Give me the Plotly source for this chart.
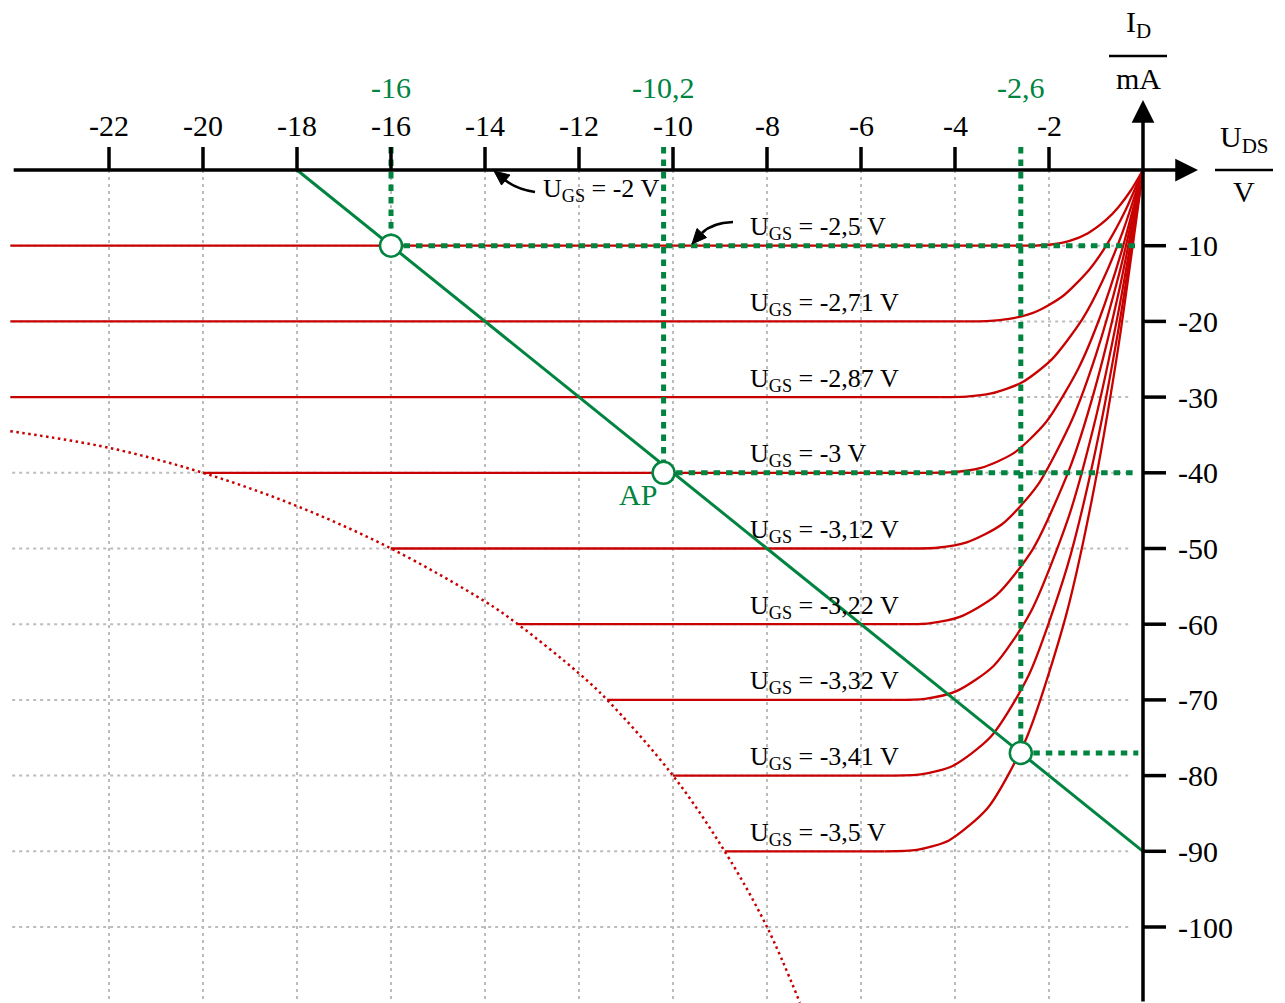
import plotly.graph_objects as go

FONT = "Liberation Serif, Times New Roman, serif"
RED = "#c80000"
GREEN = "#00843f"
GRAY = "#bcbcbc"
BLACK = "#000000"

# ---------------- data ----------------
x_ticks = [-22, -20, -18, -16, -14, -12, -10, -8, -6, -4, -2]
x_tick_labels = ["-22", "-20", "-18", "-16", "-14", "-12", "-10", "-8", "-6", "-4", "-2"]
y_ticks = [-10, -20, -30, -40, -50, -60, -70, -80, -90, -100]
y_tick_labels = ["-10", "-20", "-30", "-40", "-50", "-60", "-70", "-80", "-90", "-100"]

ugs_labels = ["-2,5 V", "-2,71 V", "-2,87 V", "-3 V", "-3,12 V",
              "-3,22 V", "-3,32 V", "-3,41 V", "-3,5 V"]
i_sat = [-10, -20, -30, -40, -50, -60, -70, -80, -90]
u_start = [-24.1, -24.1, -24.1, -20, -16, -13.3, -11.4, -10, -8.9]

curve_u = [
    [-2.6, -2.28, -1.95, -1.56, -1.17, -0.78, -0.52, -0.26, 0],
    [-3.8, -3.33, -2.85, -2.28, -1.71, -1.14, -0.76, -0.38, 0],
    [-4.3, -3.76, -3.23, -2.58, -1.94, -1.29, -0.86, -0.43, 0],
    [-4.6, -4.03, -3.45, -2.76, -2.07, -1.38, -0.92, -0.46, 0],
    [-5.0, -4.38, -3.75, -3.0, -2.25, -1.5, -1.0, -0.5, 0],
    [-5.2, -4.55, -3.9, -3.12, -2.34, -1.56, -1.04, -0.52, 0],
    [-5.3, -4.64, -3.98, -3.18, -2.39, -1.59, -1.06, -0.53, 0],
    [-5.4, -4.73, -4.05, -3.24, -2.43, -1.62, -1.08, -0.54, 0],
    [-5.5, -4.81, -4.13, -3.3, -2.48, -1.65, -1.1, -0.55, 0],
]
curve_i = [
    [-10, -9.98, -9.84, -9.36, -8.34, -6.57, -4.88, -2.71, 0],
    [-20, -19.96, -19.68, -18.72, -16.68, -13.14, -9.76, -5.42, 0],
    [-30, -29.94, -29.52, -28.08, -25.02, -19.71, -14.64, -8.13, 0],
    [-40, -39.92, -39.36, -37.44, -33.36, -26.28, -19.52, -10.84, 0],
    [-50, -49.9, -49.2, -46.8, -41.7, -32.85, -24.4, -13.55, 0],
    [-60, -59.88, -59.04, -56.16, -50.04, -39.42, -29.28, -16.26, 0],
    [-70, -69.86, -68.88, -65.52, -58.38, -45.99, -34.16, -18.97, 0],
    [-80, -79.84, -78.72, -74.88, -66.72, -52.56, -39.04, -21.68, 0],
    [-90, -89.82, -88.56, -84.24, -75.06, -59.13, -43.92, -24.39, 0],
]

# power hyperbola (dotted red)
hyp_u = [-24.1, -22, -20, -18, -16, -14, -13.3, -12, -11.4, -10, -8.9, -8, -7.3]
hyp_i = [-34.5, -36.7, -40, -44.4, -50, -57, -60, -66.5, -70, -80, -90, -100, -110]

# load line
load_u = [-18, 0]
load_i = [0, -90]

# operating points
op_u = [-16, -10.2, -2.6]
op_i = [-10, -40, -77]
op_labels = ["-16", "-10,2", "-2,6"]

# ---------------- geometry of the canvas ----------------
W, H = 1285, 1003
X0_PX, PX_PER_V = 1143, 47.0
Y0_PX, PX_PER_MA = 170, 7.57
x_range = [-X0_PX / PX_PER_V, (W - X0_PX) / PX_PER_V]
y_range = [-(H - Y0_PX) / PX_PER_MA, Y0_PX / PX_PER_MA]
x_left = -24.06
grid_right = -0.25
tick_len_i = 23 / PX_PER_MA
tick_len_u = 23 / PX_PER_V


def pu(px):
    return (px - X0_PX) / PX_PER_V


def pi(py):
    return (Y0_PX - py) / PX_PER_MA


fig = go.Figure()
shapes = []
annotations = []

# grid
for xv in x_ticks:
    fig.add_trace(go.Scatter(x=[xv, xv], y=[0, y_range[0]], mode="lines",
                             line=dict(color=GRAY, width=2, dash="3px,4px"),
                             hoverinfo="skip", showlegend=False))
for yv in y_ticks:
    fig.add_trace(go.Scatter(x=[x_left, grid_right], y=[yv, yv], mode="lines",
                             line=dict(color=GRAY, width=2, dash="3px,4px"),
                             hoverinfo="skip", showlegend=False))

# hyperbola
fig.add_trace(go.Scatter(x=hyp_u, y=hyp_i, mode="lines", line_shape="spline",
                         line=dict(color=RED, width=2.5, dash="2.5px,3.5px"),
                         hoverinfo="skip", showlegend=False))

# characteristic curves: flat part + curved part
for us, isat, cu, ci in zip(u_start, i_sat, curve_u, curve_i):
    fig.add_trace(go.Scatter(x=[us, cu[0]], y=[isat, ci[0]], mode="lines",
                             line=dict(color=RED, width=2.3),
                             hoverinfo="skip", showlegend=False))
    fig.add_trace(go.Scatter(x=cu, y=ci, mode="lines",
                             line=dict(color=RED, width=2.3, shape="spline", smoothing=0.7),
                             hoverinfo="skip", showlegend=False))

# green dotted helper lines
for u, i in zip(op_u, op_i):
    fig.add_trace(go.Scatter(x=[u, u], y=[tick_len_i, i], mode="lines",
                             line=dict(color=GREEN, width=5, dash="6.5px,6px"),
                             hoverinfo="skip", showlegend=False))
    fig.add_trace(go.Scatter(x=[u, -0.1], y=[i, i], mode="lines",
                             line=dict(color=GREEN, width=5, dash="6.5px,6px"),
                             hoverinfo="skip", showlegend=False))

# load line
fig.add_trace(go.Scatter(x=load_u, y=load_i, mode="lines",
                         line=dict(color=GREEN, width=3),
                         hoverinfo="skip", showlegend=False))

# operating point circles
fig.add_trace(go.Scatter(x=op_u, y=op_i, mode="markers",
                         marker=dict(size=22, color="white",
                                     line=dict(color=GREEN, width=2.5)),
                         hoverinfo="skip", showlegend=False))

# ticks
for xv in x_ticks:
    shapes.append(dict(type="line", x0=xv, x1=xv, y0=0, y1=tick_len_i,
                       line=dict(color=BLACK, width=3.5), layer="above"))
for yv in y_ticks:
    shapes.append(dict(type="line", x0=0, x1=tick_len_u, y0=yv, y1=yv,
                       line=dict(color=BLACK, width=3.5), layer="above"))

# tick labels
for xv, lab in zip(x_ticks, x_tick_labels):
    annotations.append(dict(x=xv, y=pi(125), text=lab, showarrow=False,
                            font=dict(family=FONT, size=30, color=BLACK),
                            xanchor="center", yanchor="middle"))
for yv, lab in zip(y_ticks, y_tick_labels):
    annotations.append(dict(x=pu(1176), y=yv, text=lab, showarrow=False,
                            font=dict(family=FONT, size=30, color=BLACK),
                            xanchor="left", yanchor="middle"))

# green value labels
for u, lab in zip(op_u, op_labels):
    annotations.append(dict(x=u, y=pi(87), text=lab, showarrow=False,
                            font=dict(family=FONT, size=30, color=GREEN),
                            xanchor="center", yanchor="middle"))

# U_GS labels
lab_u = pu(748)
for isat, lab in zip(i_sat, ugs_labels):
    annotations.append(dict(x=lab_u, y=isat + 2.3, text="U<sub>GS</sub> = " + lab,
                            showarrow=False, font=dict(family=FONT, size=26, color=BLACK),
                            xanchor="left", yanchor="middle"))
annotations.append(dict(x=pu(541), y=-2.6, text="U<sub>GS</sub> = -2 V",
                        showarrow=False, font=dict(family=FONT, size=26, color=BLACK),
                        xanchor="left", yanchor="middle"))


# curved pointer arrows (shaft + head)
def curved_arrow(p0, pc, p1, tip, b1, b2):
    shapes.append(dict(type="path",
                       path=f"M {pu(p0[0])},{pi(p0[1])} Q {pu(pc[0])},{pi(pc[1])} {pu(p1[0])},{pi(p1[1])}",
                       line=dict(color=BLACK, width=2.6), layer="above"))
    shapes.append(dict(type="path",
                       path=f"M {pu(tip[0])},{pi(tip[1])} L {pu(b1[0])},{pi(b1[1])} L {pu(b2[0])},{pi(b2[1])} Z",
                       line=dict(color=BLACK, width=1), fillcolor=BLACK, layer="above"))


curved_arrow((535, 192), (516, 189), (505, 180), (494, 171), (510, 175), (501.5, 185))
curved_arrow((733, 222), (712, 223), (702, 233), (692, 244), (706.5, 237.5), (697, 228.5))

# AP label
annotations.append(dict(x=pu(638), y=pi(494), text="AP", showarrow=False,
                        font=dict(family=FONT, size=30, color=GREEN),
                        xanchor="center", yanchor="middle"))

# axes with arrows
annotations.append(dict(x=pu(1198), y=0, ax=x_left, ay=0,
                        axref="x", ayref="y", xref="x", yref="y", text="", showarrow=True,
                        arrowhead=2, arrowsize=1.3, arrowwidth=3.5, arrowcolor=BLACK))
annotations.append(dict(x=0, y=pi(100), ax=0, ay=y_range[0],
                        axref="x", ayref="y", xref="x", yref="y", text="", showarrow=True,
                        arrowhead=2, arrowsize=1.3, arrowwidth=3.5, arrowcolor=BLACK))

# axis titles (fractions)
annotations.append(dict(x=pu(1138), y=pi(24), text="I<sub>D</sub>", showarrow=False,
                        font=dict(family=FONT, size=30, color=BLACK),
                        xanchor="center", yanchor="middle"))
annotations.append(dict(x=pu(1138), y=pi(78), text="mA", showarrow=False,
                        font=dict(family=FONT, size=30, color=BLACK),
                        xanchor="center", yanchor="middle"))
shapes.append(dict(type="line", x0=pu(1109), x1=pu(1167), y0=pi(56), y1=pi(56),
                   line=dict(color=BLACK, width=2.5)))
annotations.append(dict(x=pu(1244), y=pi(139), text="U<sub>DS</sub>", showarrow=False,
                        font=dict(family=FONT, size=30, color=BLACK),
                        xanchor="center", yanchor="middle"))
annotations.append(dict(x=pu(1244), y=pi(191), text="V", showarrow=False,
                        font=dict(family=FONT, size=30, color=BLACK),
                        xanchor="center", yanchor="middle"))
shapes.append(dict(type="line", x0=pu(1215), x1=pu(1273), y0=0, y1=0,
                   line=dict(color=BLACK, width=2.5)))

fig.update_layout(
    width=W, height=H,
    margin=dict(l=0, r=0, t=0, b=0),
    paper_bgcolor="white", plot_bgcolor="white",
    xaxis=dict(range=x_range, visible=False, fixedrange=True),
    yaxis=dict(range=y_range, visible=False, fixedrange=True),
    shapes=shapes, annotations=annotations,
    showlegend=False,
)

fig.write_html("out.html", config={"displayModeBar": False},
               post_script="document.body.style.margin='0';document.body.style.overflow='hidden';")
